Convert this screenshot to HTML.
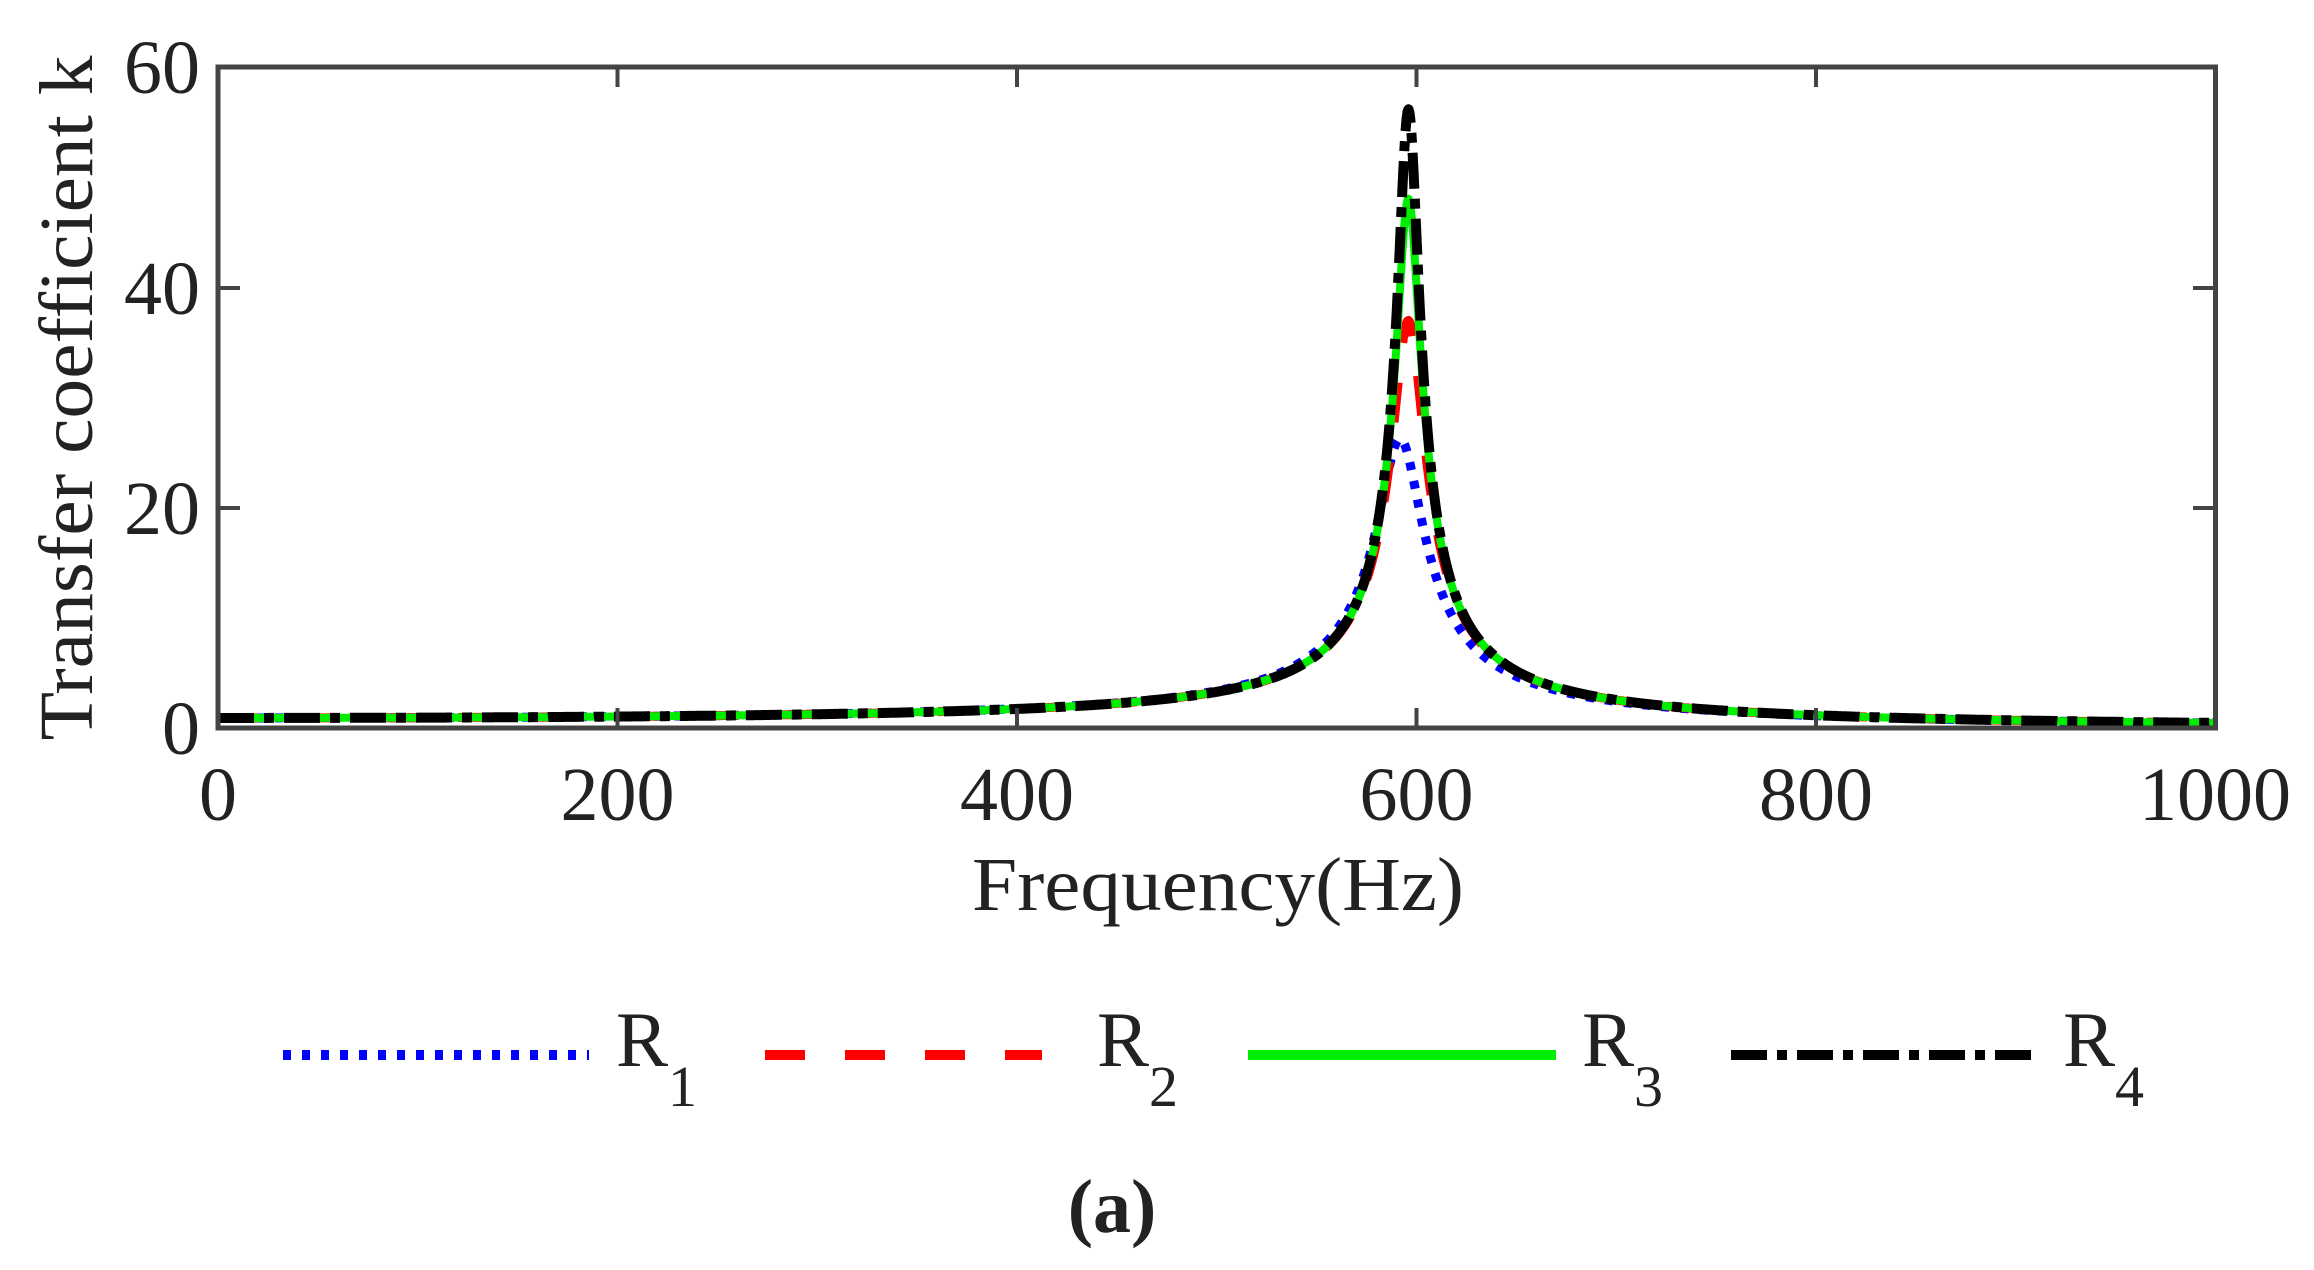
<!DOCTYPE html>
<html><head><meta charset="utf-8"><style>
html,body{margin:0;padding:0;background:#fff;width:2314px;height:1270px;overflow:hidden}
text{font-family:"Liberation Serif",serif;fill:#222}
</style></head><body>
<svg id="s" width="2314" height="1270" xmlns="http://www.w3.org/2000/svg">
<defs><clipPath id="c"><rect x="218" y="67" width="1998" height="662"/></clipPath></defs>
<g id="curves" clip-path="url(#c)"></g>
<rect x="218" y="67" width="1997.5" height="661" fill="none" stroke="#444" stroke-width="5"/>
<g stroke="#444" stroke-width="4">
<line x1="617.5" y1="67" x2="617.5" y2="87"/><line x1="617.5" y1="728" x2="617.5" y2="708"/>
<line x1="1017" y1="67" x2="1017" y2="87"/><line x1="1017" y1="728" x2="1017" y2="708"/>
<line x1="1416.5" y1="67" x2="1416.5" y2="87"/><line x1="1416.5" y1="728" x2="1416.5" y2="708"/>
<line x1="1816" y1="67" x2="1816" y2="87"/><line x1="1816" y1="728" x2="1816" y2="708"/>
<line x1="218" y1="288" x2="240" y2="288"/><line x1="2215" y1="288" x2="2193" y2="288"/>
<line x1="218" y1="508" x2="240" y2="508"/><line x1="2215" y1="508" x2="2193" y2="508"/>
</g>
<g font-size="76" text-anchor="middle">
<text x="218" y="820">0</text><text x="617.5" y="820">200</text><text x="1017" y="820">400</text>
<text x="1416.5" y="820">600</text><text x="1816" y="820">800</text><text x="2215" y="820">1000</text>
</g>
<g font-size="76" text-anchor="end">
<text x="200" y="93">60</text><text x="200" y="314">40</text><text x="200" y="534">20</text><text x="200" y="754">0</text>
</g>
<text font-size="76" text-anchor="middle" transform="translate(92,398) rotate(-90)" textLength="685" lengthAdjust="spacingAndGlyphs">Transfer coefficient k</text>
<text font-size="76" x="1218" y="910" text-anchor="middle" textLength="492" lengthAdjust="spacingAndGlyphs">Frequency(Hz)</text>
<g stroke-width="10" fill="none">
<line x1="283" y1="1055" x2="589" y2="1055" stroke="#0000ff" stroke-dasharray="8 11"/>
<line x1="765" y1="1055" x2="1042" y2="1055" stroke="#ff0000" stroke-dasharray="40 40"/>
<line x1="1248" y1="1055" x2="1556" y2="1055" stroke="#00ee00"/>
<line x1="1731" y1="1055" x2="2037" y2="1055" stroke="#000" stroke-dasharray="36 10 10 10"/>
</g>
<g font-size="78">
<text x="616" y="1066">R</text><text x="668" y="1106" font-size="58">1</text>
<text x="1097" y="1066">R</text><text x="1149" y="1106" font-size="58">2</text>
<text x="1582" y="1066">R</text><text x="1634" y="1106" font-size="58">3</text>
<text x="2063" y="1066">R</text><text x="2115" y="1106" font-size="58">4</text>
</g>
<text x="1112" y="1232" font-size="76" font-weight="bold" text-anchor="middle">(a)</text>
</svg>
<script>
var g=document.getElementById('curves');
function X(f){return 218+f*1.9975}
function Y(k){return 729-k*11.03}
function path(f0,z){var d='';for(var f=0;f<=1000;f+=0.5){var r=f/f0;var k=1/Math.sqrt((1-r*r)*(1-r*r)+(2*z*r)*(2*z*r));d+=(f?'L':'M')+X(f).toFixed(1)+' '+Y(k).toFixed(1);}return d}
var S=[[592,0.019,'#0000ff','8 11',9],[596,0.0135,'#ff0000','40 40',9],[596,0.0104,'#00ee00','',8],[596,0.0089,'#000','36 10 10 10',10]];
S.forEach(function(s){var p=document.createElementNS('http://www.w3.org/2000/svg','path');p.setAttribute('d',path(s[0],s[1]));p.setAttribute('fill','none');p.setAttribute('stroke',s[2]);p.setAttribute('stroke-width',s[4]);if(s[3])p.setAttribute('stroke-dasharray',s[3]);p.setAttribute('stroke-linejoin','round');g.appendChild(p);});
</script>
</body></html>
